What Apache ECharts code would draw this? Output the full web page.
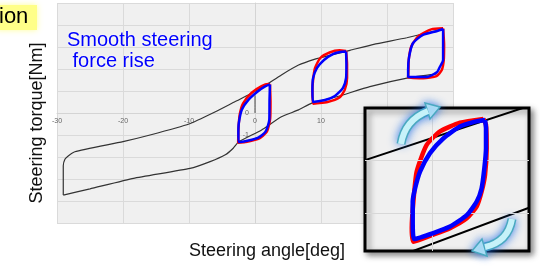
<!DOCTYPE html>
<html>
<head>
<meta charset="utf-8">
<script src="https://cdn.jsdelivr.net/npm/echarts@6/dist/echarts.min.js"></script>
<style>
  html,body{margin:0;padding:0;background:#fff;}
  #main{width:540px;height:270px;}
</style>
</head>
<body>
<div id="main"></div>
<script>
/* 轴刻度 */
var xLabelsShown = [-30, -20, -10, 0, 10];
var yLabelsShown = [0, -1];

/* 外侧迟滞曲线 (deg, Nm) */
var outerUpper = [[-29.05,-3.73],[-29.05,-2.4],[-28.8,-2.1],[-28.3,-1.95],[-27.3,-1.76],[-20,-1.3],[-15.9,-1.0],[-10,-0.5],[-6,0.06],[-3,0.52],[-0.8,0.85],[1.3,1.2],[4.0,1.73],[6.6,2.18],[9.1,2.45],[11,2.6],[14.4,2.85],[18,3.12],[23,3.42],[28.5,3.82]];
var outerLower = [[-29.05,-3.73],[-25,-3.45],[-18.4,-2.97],[-9.85,-2.52],[-6.8,-2.21],[-4.5,-1.9],[-3.3,-1.6],[-2.5,-1.32],[1.0,-0.77],[4.0,-0.17],[6.6,0.14],[8.6,0.45],[12.4,0.74],[17.4,1.2],[23.2,1.6],[27.5,1.78]];
var yAxisStub = [[0,0],[0,0.8]];

/* 小迟滞环 红 / 蓝 */
var loopLeftRed = [[2.27,1.3],[2.35,0.5],[2.3,-0.25],[1.8,-0.85],[0.5,-1.18],[-1.5,-1.32],[-2.55,-1.35],[-2.5,-0.7],[-2.3,-0.05],[-1.8,0.44],[-0.5,0.92],[1.0,1.22],[2.0,1.32],[2.27,1.3]];
var loopLeftBlue = [[2.27,1.3],[2.2,0.6],[2.17,-0.3],[1.6,-0.85],[0.5,-1.12],[-1,-1.25],[-2.5,-1.32],[-2.52,-0.9],[-2.45,-0.45],[-2.0,0.15],[-1.0,0.6],[0.5,1.0],[1.6,1.22],[2.27,1.3]];
var loopMidRed = [[13.8,2.82],[13.95,2.2],[13.95,1.59],[13.6,1.05],[12.8,0.7],[11.0,0.5],[8.8,0.42],[8.7,1.0],[8.8,1.5],[9.1,2.05],[9.9,2.5],[11.3,2.75],[12.8,2.85],[13.8,2.82]];
var loopMidBlue = [[13.8,2.79],[13.85,2.2],[13.8,1.59],[13.33,1.14],[12.1,0.77],[10.6,0.59],[8.8,0.5],[8.7,1.05],[8.8,1.59],[9.4,2.05],[10.45,2.41],[11.8,2.68],[12.9,2.77],[13.8,2.79]];
var loopRightRed = [[28.5,3.85],[28.65,3.1],[28.6,2.41],[28.3,1.95],[27.5,1.68],[25.5,1.58],[23.2,1.6],[23.25,2.0],[23.3,2.45],[23.7,3.05],[24.8,3.5],[26.7,3.8],[28.5,3.85]];
var loopRightBlue = [[28.5,3.82],[28.5,3.09],[28.5,2.41],[28.0,2.09],[27.6,1.86],[26.1,1.64],[23.2,1.64],[23.2,1.95],[23.35,2.55],[23.95,3.18],[25.45,3.55],[27.6,3.73],[28.5,3.82]];

/* 放大图 */
var insetGridX = [24.72];
var insetGridY = [3.05, 2.09];
var insetUpper = [[19.5,3.03],[32,4.08]];
var insetLower = [[22.5,1.31],[32,2.21]];
var insetRed = [[28.43,3.82],[28.62,3.71],[28.67,3.28],[28.55,2.79],[28.3,2.48],[27.95,2.21],[27.23,1.99],[26.02,1.81],[24.81,1.69],[23.37,1.56],[23.25,1.81],[23.37,2.3],[23.61,2.85],[24.33,3.34],[25.3,3.59],[26.74,3.75],[28.43,3.82]];
var insetBlue = [[28.55,3.8],[28.62,3.65],[28.62,3.28],[28.5,2.91],[28.3,2.54],[27.95,2.3],[27.23,2.05],[26.02,1.84],[24.81,1.72],[23.42,1.61],[23.32,1.93],[23.32,2.3],[23.49,2.54],[23.85,2.85],[24.57,3.19],[25.53,3.46],[26.74,3.68],[27.83,3.77],[28.55,3.8]];

var FONT = 'Arial, "Liberation Sans", sans-serif';

function line(data, color, width, xi, z){
    return {
        type:'line', data:data, xAxisIndex:xi, yAxisIndex:xi,
        showSymbol:false, symbol:'none', smooth:width>2 ? 0.2 : 0.15, silent:true, z:z||2,
        lineStyle:{color:color, width:width}
    };
}

function arrow(p0, cp, p1, head){
    return {
        type:'group', z:20,
        children:[
            {type:'bezierCurve', z:20, shape:{x1:p0[0],y1:p0[1],cpx1:cp[0],cpy1:cp[1],x2:p1[0],y2:p1[1]},
             style:{stroke:'#4aa9c1', lineWidth:9, fill:null, shadowBlur:10, shadowColor:'rgba(30,110,230,0.9)'}},
            {type:'polygon', z:21, shape:{points:head},
             style:{fill:'#c6f2f9', stroke:'#4aa9c1', lineWidth:1.5, shadowBlur:8, shadowColor:'rgba(30,110,230,0.8)'}},
            {type:'bezierCurve', z:22, shape:{x1:p0[0],y1:p0[1],cpx1:cp[0],cpy1:cp[1],x2:p1[0],y2:p1[1]},
             style:{stroke:'#c6f2f9', lineWidth:6, fill:null}}
        ]
    };
}

var myChart = echarts.init(document.getElementById('main'));
var option = {
    animation:false,
    grid:[
        {left:57, top:3, width:396, height:220, show:true, backgroundColor:'#f0f0f0', borderWidth:0},
        {left:365, top:108, width:164, height:143, show:true, z:1, backgroundColor:'#f0f0f0',
         borderColor:'#000', borderWidth:3, shadowBlur:6, shadowColor:'rgba(0,0,0,0.45)', shadowOffsetX:3, shadowOffsetY:3}
    ],
    xAxis:[
        //x轴放在 y=0 处
        {type:'value', gridIndex:0, min:-30, max:30, interval:10, position:'bottom', offset:-110,
         axisLine:{onZero:false, lineStyle:{color:'#d4d4d4'}}, axisTick:{show:false},
         axisLabel:{fontSize:7, color:'#666', margin:5, fontFamily:FONT,
            formatter:function(v){ return xLabelsShown.indexOf(v) >= 0 ? String(v) : ''; }},
         splitLine:{lineStyle:{color:'#dadada'}}},
        {type:'value', gridIndex:1, min:19.87, max:31.73, show:false, splitLine:{show:false}}
    ],
    yAxis:[
        //y轴放在 x=0 处
        {type:'value', gridIndex:0, min:-5, max:5, interval:1, position:'left', offset:-198,
         axisLine:{onZero:false, lineStyle:{color:'#d4d4d4'}}, axisTick:{show:false},
         axisLabel:{fontSize:7, color:'#666', margin:6, fontFamily:FONT,
            formatter:function(v){ return yLabelsShown.indexOf(v) >= 0 ? String(v) : ''; }},
         splitLine:{lineStyle:{color:'#dadada'}}},
        {type:'value', gridIndex:1, min:1.39, max:4.02, show:false, splitLine:{show:false}}
    ],
    series:[
        line(outerUpper, '#333', 1.2, 0),
        line(outerLower, '#333', 1.2, 0),
        line(yAxisStub, '#444', 1, 0),
        line(loopLeftRed, '#ff0000', 2.5, 0, 3),
        line(loopMidRed, '#ff0000', 2.5, 0, 3),
        line(loopRightRed, '#ff0000', 2.5, 0, 3),
        line(loopLeftBlue, '#0000ff', 2.5, 0, 4),
        line(loopMidBlue, '#0000ff', 2.5, 0, 4),
        line(loopRightBlue, '#0000ff', 2.5, 0, 4),
        //放大图网格线
        {type:'line', xAxisIndex:1, yAxisIndex:1, data:[], silent:true, z:2,
         markLine:{silent:true, symbol:'none', label:{show:false},
            lineStyle:{color:'#d8d8d8', type:'solid', width:1},
            data:insetGridX.map(function(v){return {xAxis:v};}).concat(insetGridY.map(function(v){return {yAxis:v};}))}},
        line(insetUpper, '#000', 2, 1, 3),
        line(insetLower, '#000', 2, 1, 3),
        line(insetRed, '#ff0000', 4.5, 1, 4),
        line(insetBlue, '#0000ff', 4.5, 1, 5)
    ],
    graphic:[
        {type:'rect', z:10, shape:{x:-4, y:5, width:41, height:25},
         style:{fill:'#ffff88', shadowBlur:6, shadowColor:'#ffff99'}},
        {type:'text', z:11, x:-1, y:6,
         style:{text:'ion', font:'22px ' + FONT, fill:'#000', verticalAlign:'top'}},
        {type:'text', z:11, x:67, y:30,
         style:{text:'Smooth steering\n force rise', font:'20px ' + FONT, fill:'#0000ff', lineHeight:21,
            verticalAlign:'top', textShadowBlur:3, textShadowColor:'#fff'}},
        {type:'text', z:11, x:37, y:123, rotation:Math.PI/2,
         style:{text:'Steering torque[Nm]', font:'18px ' + FONT, fill:'#111', align:'center', verticalAlign:'middle'}},
        {type:'text', z:11, x:267, y:251,
         style:{text:'Steering angle[deg]', font:'18px ' + FONT, fill:'#111', align:'center', verticalAlign:'middle'}},
        arrow([401,144],[405,120],[428,111],[[425,103],[440,107],[430,119]]),
        arrow([512,219],[508,242],[485,247],[[482,239],[472,251],[487,256]])
    ]
};
myChart.setOption(option);
</script>
</body>
</html>
